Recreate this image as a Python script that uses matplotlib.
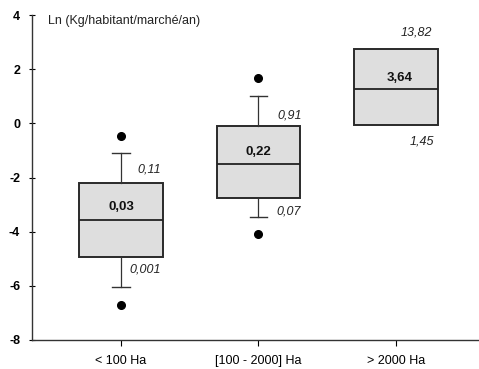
import matplotlib
matplotlib.use("Agg")
import matplotlib.pyplot as plt

plt.rcParams['font.family'] = ['Liberation Sans', 'DejaVu Sans']
plt.rcParams['axes.unicode_minus'] = False

categories = ["< 100 Ha", "[100 - 2000] Ha", "> 2000 Ha"]
q1 = [-4.93, -2.75, -0.06]
med = [-3.56, -1.50, 1.27]
q3 = [-2.20, -0.10, 2.75]
whislo = [-6.04, -3.45, -0.06]
whishi = [-1.09, 1.00, 2.75]
fliers = [[-0.47, -6.70], [1.68, -4.08], []]

median_labels = ["0,03", "0,22", "3,64"]
median_label_y = [-3.1, -1.05, 1.68]
upper_labels = ["0,11", "0,91", "13,82"]
upper_label_y = [-1.72, 0.31, 3.37]
lower_labels = ["0,001", "0,07", "1,45"]
lower_label_y = [-5.40, -3.27, -0.65]

yticks = [-8, -6, -4, -2, 0, 2, 4]
ylabel = "Ln (Kg/habitant/marché/an)"

fig = plt.figure(figsize=(4.79, 3.69), dpi=100)
ax = fig.add_axes([0.0668, 0.0786, 0.9332, 0.8804])

stats = []
for i in range(3):
    stats.append(dict(med=med[i], q1=q1[i], q3=q3[i], whislo=whislo[i],
                      whishi=whishi[i], fliers=fliers[i], label=categories[i]))

pos = list(range(len(categories)))
ax.bxp(stats, positions=pos, widths=0.61, patch_artist=True,
       boxprops=dict(facecolor='#dedede', edgecolor='#2a2a2a', linewidth=1.4),
       medianprops=dict(color='#222222', linewidth=1.3),
       whiskerprops=dict(color='#333333', linewidth=0.9),
       capprops=dict(color='#333333', linewidth=1.0),
       capwidths=[0.13, 0.13, 0.0],
       flierprops=dict(marker='o', markerfacecolor='black', markeredgecolor='black',
                       markersize=5.5))

# annotations
for i in range(3):
    ax.text(pos[i] + (0.03 if i == 2 else 0), median_label_y[i], median_labels[i],
            ha='center', va='center', fontsize=9.5, fontweight='bold', color='#111111')
upper_x = [0.12, 0.14, 2.15]
lower_x = [0.06, 0.13, 2.19]
for i in range(2):
    ax.text(pos[i] + upper_x[i], upper_label_y[i], upper_labels[i], ha='left', va='center',
            fontsize=9, style='italic', color='#222222')
    ax.text(pos[i] + lower_x[i], lower_label_y[i], lower_labels[i], ha='left', va='center',
            fontsize=9, style='italic', color='#222222')
ax.text(upper_x[2], upper_label_y[2], upper_labels[2], ha='center', va='center',
        fontsize=9, style='italic', color='#222222')
ax.text(lower_x[2], lower_label_y[2], lower_labels[2], ha='center', va='center',
        fontsize=9, style='italic', color='#222222')

ax.text(-0.53, 3.8, ylabel, ha='left', va='center', fontsize=9, color='#222222')

ax.set_xlim(-0.647, 2.604)
ax.set_ylim(-8, 4)
ax.set_yticks(yticks)
ax.set_yticklabels([str(t) for t in yticks], fontsize=9, fontweight='bold')
ax.set_xticks(pos)
ax.set_xticklabels(categories, fontsize=9)
ax.tick_params(axis='y', direction='inout', length=5, width=0.8, pad=6)
ax.tick_params(axis='x', direction='out', length=4, width=0.8, pad=7)
for s in ['top', 'right']:
    ax.spines[s].set_visible(False)
for s in ['left', 'bottom']:
    ax.spines[s].set_color('#333333')
    ax.spines[s].set_linewidth(1.0)

fig.savefig("out.png", dpi=100)
